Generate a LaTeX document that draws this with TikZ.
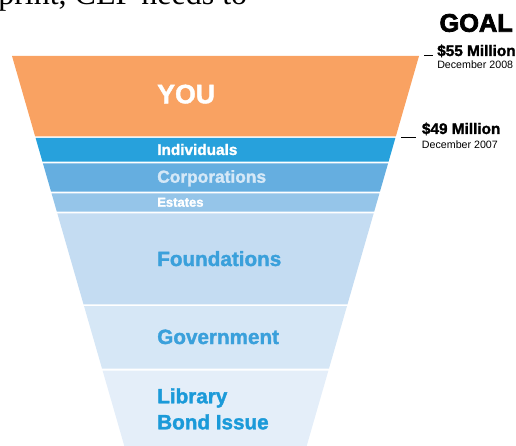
\documentclass[tikz,border=0pt]{standalone}
\usepackage{fontspec}
\setmainfont{Liberation Sans}
\newfontfamily\pageserif{Liberation Serif}
\newfontfamily\heavyfont{Liberation Sans Bold}[FakeBold=1.6]
\newfontfamily\blackfont{Liberation Sans Bold}[FakeBold=3]
\usetikzlibrary{positioning}
\definecolor{youorange}{RGB}{249, 162, 98}
\definecolor{indblue}{RGB}{39, 161, 220}
\definecolor{corpblue}{RGB}{101, 174, 224}
\definecolor{estblue}{RGB}{149, 197, 233}
\definecolor{fndblue}{RGB}{196, 220, 242}
\definecolor{govblue}{RGB}{214, 231, 246}
\definecolor{libblue}{RGB}{228, 238, 249}
\definecolor{labelblue}{RGB}{58, 160, 219}
\definecolor{libtext}{RGB}{27, 154, 217}
\definecolor{corptext}{RGB}{213, 232, 247}

% one slice of the funnel, between two heights (in px)
\newcommand{\funnelband}[3]{%
  \fill[#3] ({12+0.288*(#1-56)},#1) -- ({419-0.288*(#1-56)},#1)
    -- ({419-0.288*(#2-56)},#2) -- ({12+0.288*(#2-56)},#2) -- cycle;}

\begin{document}
\begin{tikzpicture}[x=0.75pt, y=-0.75pt,
    bandlabel/.style={anchor=base west, inner sep=0pt},
    amount/.style={anchor=base west, inner sep=0pt, font=\heavyfont\fontsize{11.5}{12}\selectfont},
    when/.style={anchor=base west, inner sep=0pt, font=\fontsize{8}{9}\selectfont}]
\useasboundingbox (0,0) rectangle (516,445);
\clip (0,0) rectangle (516,445);

% Cut-off line of page text
\node[anchor=base west, inner sep=0pt, font=\pageserif\fontsize{24}{26}\selectfont] (pagetext) at (-2,4.5) {print, CEP needs to};

% Funnel slices
\funnelband{56}{136.3}{youorange}
\funnelband{138}{161.7}{indblue}
\funnelband{163.3}{191.7}{corpblue}
\funnelband{193.3}{211.7}{estblue}
\funnelband{213.3}{304.3}{fndblue}
\funnelband{306}{368.5}{govblue}
\funnelband{370.5}{460}{libblue}

% Slice labels
\node[bandlabel, font=\heavyfont\fontsize{20}{22}\selectfont, text=white] (you) at (157,103.3) {YOU};
\node[bandlabel, font=\heavyfont\fontsize{11.5}{12}\selectfont, text=white] (indiv) at (157,155) {Individuals};
\node[bandlabel, font=\heavyfont\fontsize{13}{14}\selectfont, text=corptext] (corp) at (157,182.7) {Corporations};
\node[bandlabel, font=\heavyfont\fontsize{9.75}{10}\selectfont, text=white] (estates) at (157,206.7) {Estates};
\node[bandlabel, font=\heavyfont\fontsize{15.5}{17}\selectfont, text=labelblue] (found) at (157,266) {Foundations};
\node[bandlabel, font=\heavyfont\fontsize{15.5}{17}\selectfont, text=labelblue] (govt) at (157,344) {Government};
\node[bandlabel, font=\heavyfont\fontsize{15.5}{17}\selectfont, text=libtext] (lib) at (157,403.3) {Library};
\node[bandlabel, font=\heavyfont\fontsize{15.5}{17}\selectfont, text=libtext] (bond) at (157,429.3) {Bond Issue};

% Goal markers
\node[anchor=base east, inner sep=0pt, font=\blackfont\fontsize{19}{20}\selectfont] (goal) at (513,31.7) {GOAL};
\node[amount] (goalamt) at (437,56) {\$55 Million};
\node[when] (goaldate) at (437,68.5) {December 2008};
\node[amount] (nowamt) at (421.7,134) {\$49 Million};
\node[when] (nowdate) at (421.7,149) {December 2007};

\coordinate (goaltick) at (424,55.5);
\coordinate (nowtick) at (401,137.3);
\draw[line width=0.9pt] (goaltick) -- ++(9,0);
\draw[line width=0.9pt] (nowtick) -- ++(15,0);
\end{tikzpicture}
\end{document}
